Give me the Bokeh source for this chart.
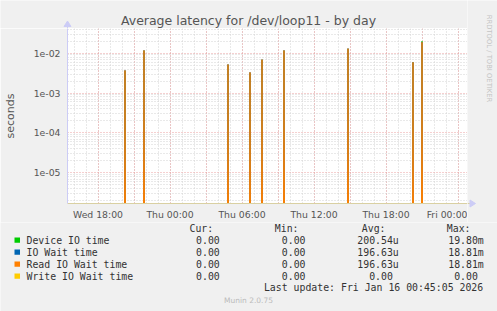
import numpy as np
import pandas as pd
from math import pi
from bokeh.plotting import figure
from bokeh.layouts import column, row
from bokeh.models import Range1d, FixedTicker, CustomJSTickFormatter, ColumnDataSource
from bokeh.core.properties import value
from bokeh.embed import file_html
from bokeh.resources import INLINE

# ---------------- data ----------------
window_start = "2026-01-14 15:30"
window_end = "2026-01-16 00:50"
sample_step = "5min"

spike_times = ["2026-01-14 20:15", "2026-01-14 21:50", "2026-01-15 04:50",
               "2026-01-15 06:40", "2026-01-15 07:40", "2026-01-15 09:30",
               "2026-01-15 14:50", "2026-01-15 20:15", "2026-01-15 21:00"]
device_io_time = [3.6e-3, 1.15e-2, 5.1e-3, 3.2e-3, 6.8e-3, 1.15e-2, 1.28e-2, 5.8e-3, 1.980e-2]
io_wait_time = [3.7e-3, 1.17e-2, 5.2e-3, 3.3e-3, 6.9e-3, 1.17e-2, 1.30e-2, 5.9e-3, 1.881e-2]
read_io_wait_time = [3.7e-3, 1.17e-2, 5.2e-3, 3.3e-3, 6.9e-3, 1.17e-2, 1.30e-2, 5.9e-3, 1.881e-2]
write_io_wait_time = [0, 0, 0, 0, 0, 0, 0, 0, 0]

x_label_ticks = ["2026-01-14 18:00", "2026-01-15 00:00", "2026-01-15 06:00",
                 "2026-01-15 12:00", "2026-01-15 18:00", "2026-01-16 00:00"]
y_decades = [1e-5, 1e-4, 1e-3, 1e-2]
y_min, y_max = 1.71e-6, 4.15e-2

legend_labels = ["Device IO time", "IO Wait time", "Read IO Wait time", "Write IO Wait time"]
legend_colors = ["#00CC00", "#0066B3", "#FF8000", "#FFCC00"]
stat_headers = ["Cur:", "Min:", "Avg:", "Max:"]
stat_cur = ["0.00", "0.00", "0.00", "0.00"]
stat_min = ["0.00", "0.00", "0.00", "0.00"]
stat_avg = ["200.54u", "196.63u", "196.63u", "0.00"]
stat_max = ["19.80m", "18.81m", "18.81m", "0.00"]
last_update = "Last update: Fri Jan 16 00:45:05 2026"
title_text = "Average latency for /dev/loop11 - by day"
y_axis_title = "seconds"
side_text = "RRDTOOL / TOBI OETIKER"
footer_text = "Munin 2.0.75"

# ---------------- build series ----------------
t = pd.date_range(window_start, window_end, freq=sample_step)
FLOOR = 1e-10  # zero values on a log axis: drawn below the visible range


def series(vals):
    s = pd.Series(0.0, index=t)
    s[pd.to_datetime(spike_times)] = vals
    v = s.values
    return np.where(v > 0, v, FLOOR)


src = ColumnDataSource(dict(
    t=t,
    dev=series(device_io_time),
    iow=series(io_wait_time),
    rd=series(read_io_wait_time),
    wr=series(write_io_wait_time),
))


def ms(s):
    return pd.Timestamp(s).value / 1e6


BG = "#F0F0F0"
W, H = 497, 311
FL = 67            # frame left
FT = 28            # frame top
FRAME_W, FRAME_H = 400, 175
FB = FT + FRAME_H  # frame bottom (203)
MAIN_BOTTOM = 222  # bottom of the chart strip
SIDE_W = W - FL - FRAME_W  # 30
Y_AXIS_COLOR = "#CCCCF6"
X_AXIS_COLOR = "#D9D0A2"
MONO = "DejaVu Sans Mono"
SANS = "DejaVu Sans"


def no_align(f):
    if "frame_align" in f.properties():
        f.frame_align = False
    return f


def canvas_fig(w, h, x0, y0):
    """A figure whose data coordinates are the page's pixel coordinates."""
    f = figure(width=w, height=h, x_range=Range1d(x0, x0 + w), y_range=Range1d(y0 + h, y0),
               min_border=0, output_backend="svg", toolbar_location=None)
    f.axis.visible = False
    f.grid.visible = False
    f.outline_line_color = None
    f.background_fill_color = BG
    f.border_fill_color = BG
    return no_align(f)


def txt(f, s, x, y, align="left", size="9.85px", font=MONO, color="#333333", angle=0.0):
    f.text(x=[x], y=[y], text=[s], text_align=align, text_baseline="middle",
           text_font=value(font), text_font_size=value(size), text_color=color, angle=angle)


# ---------------- title strip ----------------
top = canvas_fig(FL + FRAME_W, FT, 0, 0)
txt(top, title_text, 248, 19.5, align="center", size="12.5px", font=SANS, color="#555555")
top.segment(x0=[FL], y0=[24], x1=[FL], y1=[FT], line_color=Y_AXIS_COLOR, line_width=1)
top.patch(x=[FL - 3.5, FL + 3.5, FL], y=[26, 26, 20.5], fill_color=Y_AXIS_COLOR,
          line_color=Y_AXIS_COLOR)

# ---------------- main chart ----------------
p = figure(width=FL + FRAME_W, height=MAIN_BOTTOM - FT, x_axis_type="datetime",
           y_axis_type="log", output_backend="svg", toolbar_location=None,
           x_range=Range1d(ms(window_start) - 0.5 * 3e5, ms(window_end) - 0.5 * 3e5),
           y_range=Range1d(y_min, y_max),
           min_border_left=FL, min_border_right=0, min_border_top=0,
           min_border_bottom=MAIN_BOTTOM - FB)
no_align(p)
p.border_fill_color = BG
p.background_fill_color = "#FFFFFF"
p.outline_line_color = None

hour = 3600e3
x0 = ms("2026-01-14 15:00")
hours = [x0 + i * hour for i in range(0, 36)]
three_h = [h for h in hours if pd.Timestamp(h, unit="ms").hour % 3 == 0]
p.xgrid.ticker = FixedTicker(ticks=three_h, minor_ticks=hours)
minor_y = [m * 10.0 ** e for e in range(-7, 0) for m in range(2, 10)]
p.yaxis.ticker = FixedTicker(ticks=y_decades, minor_ticks=minor_y)
p.ygrid.ticker = FixedTicker(ticks=y_decades, minor_ticks=minor_y)
for g in (p.xgrid[0], p.ygrid[0]):
    g.grid_line_color = "#EBA0A0"
    g.grid_line_dash = "1 2"
    g.minor_grid_line_color = "#D2D2D2"
    g.minor_grid_line_dash = "1 2"

p.xaxis.ticker = FixedTicker(ticks=[ms(s) for s in x_label_ticks], minor_ticks=[])
p.xaxis.formatter = CustomJSTickFormatter(code="""
const d = new Date(tick);
const days = ['Sun','Mon','Tue','Wed','Thu','Fri','Sat'];
const pad = (n) => (n < 10 ? '0' : '') + n;
return days[d.getUTCDay()] + ' ' + pad(d.getUTCHours()) + ':' + pad(d.getUTCMinutes());
""")
p.yaxis.formatter = CustomJSTickFormatter(code="""
return tick.toExponential(0).replace(/e-(\\d)$/, 'e-0$1');
""")
for ax in (p.xaxis[0], p.yaxis[0]):
    ax.major_tick_line_color = None
    ax.minor_tick_line_color = None
    ax.major_tick_out = 0
    ax.major_tick_in = 0
    ax.minor_tick_out = 0
    ax.minor_tick_in = 0
    ax.major_label_text_font = SANS
    ax.major_label_text_font_size = "9.3px"
    ax.major_label_text_color = "#555555"
p.xaxis.axis_line_color = X_AXIS_COLOR
p.yaxis.axis_line_color = Y_AXIS_COLOR
p.xaxis.major_label_standoff = 5
p.yaxis.major_label_standoff = 7
p.yaxis.axis_label = y_axis_title
p.yaxis.axis_label_text_font = SANS
p.yaxis.axis_label_text_font_size = "11px"
p.yaxis.axis_label_text_font_style = "normal"
p.yaxis.axis_label_text_color = "#555555"
p.yaxis.axis_label_standoff = 14

p.line("t", "dev", source=src, color="#00CC00", line_width=1)
p.line("t", "iow", source=src, color="#0066B3", line_width=1)
p.line("t", "rd", source=src, color="#FF8000", line_width=1)
p.line("t", "wr", source=src, color="#FFCC00", line_width=1)

# ---------------- right strip ----------------
side = canvas_fig(SIDE_W, MAIN_BOTTOM, FL + FRAME_W, 0)
txt(side, side_text, 488, 58, align="center", size="6.8px", font=SANS, color="#C4C4C4",
    angle=-pi / 2)
side.segment(x0=[FL + FRAME_W], y0=[FB], x1=[FL + FRAME_W + 3], y1=[FB],
             line_color=X_AXIS_COLOR, line_width=1)
side.patch(x=[469.5, 469.5, 475], y=[FB - 3.5, FB + 3.5, FB], fill_color=Y_AXIS_COLOR,
           line_color=Y_AXIS_COLOR)

# ---------------- legend strip ----------------
leg = canvas_fig(W, H - MAIN_BOTTOM, 0, MAIN_BOTTOM)
CH = 5.93  # monospace character advance
header_right = [212.7, 298.0, 385.0, 470.0]
value_right = [219.3, 305.0, 398.3, 483.3]
for h, rx in zip(stat_headers, header_right):
    txt(leg, h, rx, 228, align="right")
row_y = [239.7, 251.7, 263.7, 275.7]
for i, name in enumerate(legend_labels):
    y = row_y[i]
    leg.quad(left=[14], right=[19.5], top=[y - 2.6], bottom=[y + 2.6],
             fill_color=legend_colors[i], line_color=None)
    txt(leg, name, 26, y)
    for col, vals in enumerate((stat_cur, stat_min, stat_avg, stat_max)):
        v = vals[i]
        rx = value_right[col]
        if col >= 2 and v[-1].isdigit():
            rx -= CH  # no unit suffix: rrdtool leaves a blank in its place
        txt(leg, v, rx, y, align="right")
txt(leg, last_update, 482.7, 287.3, align="right")
txt(leg, footer_text, 248, 300, align="center", size="7.5px", font=SANS, color="#BBBBBB")

layout = column(row(column(top, p, spacing=0), side, spacing=0), leg, spacing=0)
open("out.html", "w").write(file_html(layout, INLINE))
